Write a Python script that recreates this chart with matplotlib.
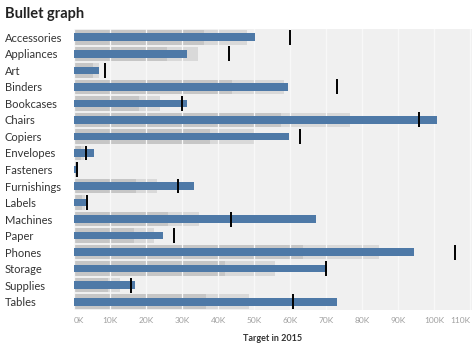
import matplotlib
matplotlib.use('Agg')
import matplotlib.pyplot as plt
import numpy as np

plt.rcParams['font.family'] = ['Lato', 'DejaVu Sans']

# sub-categories, 2015 sales and targets (in $)
categories = ['Accessories', 'Appliances', 'Art', 'Binders', 'Bookcases', 'Chairs',
              'Copiers', 'Envelopes', 'Fasteners', 'Furnishings', 'Labels', 'Machines',
              'Paper', 'Phones', 'Storage', 'Supplies', 'Tables']
sales = [50300, 31300, 7000, 59400, 31500, 100800, 59600, 5600, 600, 33300,
         3300, 67200, 24600, 94400, 70200, 17000, 73000]
target = [60000, 43000, 8700, 73000, 29900, 95800, 62800, 3300, 800, 28800,
          3700, 43500, 27700, 105800, 69900, 15900, 60900]
band_pcts = [0.6, 0.8]
xticks = np.arange(0, 110001, 10000)
xtick_labels = ['%dK' % (t // 1000) for t in xticks]

y = np.arange(len(categories))
target = np.array(target)

fig = plt.figure(figsize=(4.74, 3.48), dpi=100)
ax = fig.add_axes([74 / 474, 1 - 310 / 348, (472 - 74) / 474, (310 - 29) / 348])
ax.set_facecolor('#f0f0f0')

# distribution bands: 0-80% and 0-60% of the target
ax.barh(y, target * band_pcts[1], height=0.88, color='#d9d9d9', zorder=1)
ax.barh(y, target * band_pcts[0], height=0.88, color='#c6c6c6', zorder=1)

ax.set_axisbelow('line')
ax.grid(axis='x', color='#f8f8f8', lw=0.9)
ax.grid(axis='y', visible=False)

ax.barh(y, sales, height=0.46, color='#4e79a7', zorder=2)
ax.vlines(target, y - 0.45, y + 0.45, color='black', lw=1.4, zorder=3)

ax.set_xlim(0, 110500)
ax.set_ylim(len(categories) - 0.5, -0.5)
ax.set_xticks(xticks)
ax.set_xticklabels(xtick_labels)
ax.set_yticks(y)
ax.set_yticklabels(categories)
for s in ax.spines.values():
    s.set_visible(False)
ax.tick_params(axis='both', length=0)
ax.tick_params(axis='x', labelsize=6, labelcolor='#a0a0a0', pad=5)
ax.tick_params(axis='y', labelsize=8, labelcolor='#333333', pad=50)
for lab in ax.get_yticklabels():
    lab.set_horizontalalignment('left')
xl = ax.get_xticklabels()
xl[0].set_horizontalalignment('left')
xl[-1].set_horizontalalignment('right')

ax.set_xlabel('Target in 2015', fontsize=6.5, color='#333333', fontweight='bold', labelpad=7)
fig.text(5 / 474, 1 - 14 / 348, 'Bullet graph', fontsize=10.5, fontweight='bold',
         color='#222222', va='center', ha='left')

fig.savefig('out.png', dpi=100)
